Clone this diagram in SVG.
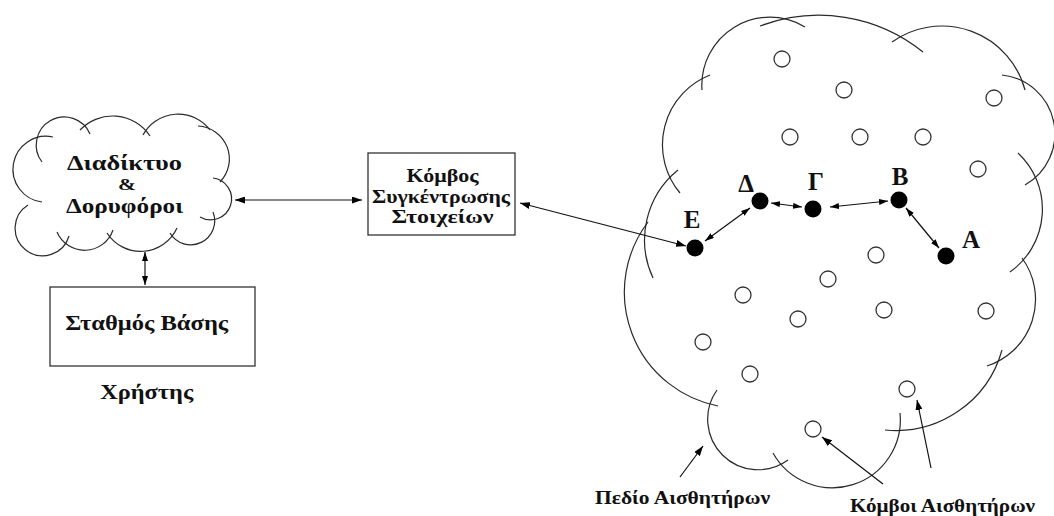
<svg xmlns="http://www.w3.org/2000/svg" width="1054" height="516" viewBox="0 0 1054 516">
  <style>
    .cloud { fill: none; stroke: #2a2a2a; stroke-width: 1.2; }
    .box { fill: #fff; stroke: #333; stroke-width: 1.3; }
    .lbl { font-family: "Liberation Serif", "Times New Roman", serif; font-weight: bold; fill: #111; text-anchor: middle; }
    .conn { fill: none; stroke: #111; stroke-width: 1.2; }
    .sensor { fill: #fff; stroke: #333; stroke-width: 1.3; }
    .hub { fill: #000; }
  </style>
  <defs>
    <marker id="arr" viewBox="0 0 10 7" refX="10" refY="3.5" markerWidth="10" markerHeight="7" markerUnits="userSpaceOnUse" orient="auto-start-reverse">
      <path d="M0,0 L10,3.5 L0,7 z" fill="#000"/>
    </marker>
    <marker id="arrS" viewBox="0 0 9 6" refX="9" refY="3" markerWidth="9" markerHeight="6" markerUnits="userSpaceOnUse" orient="auto-start-reverse">
      <path d="M0,0 L9,3 L0,6 z" fill="#000"/>
    </marker>
  </defs>
  <rect width="1054" height="516" fill="#fff"/>

  <!-- Internet & satellites cloud -->
  <g id="internet">
    <path class="cloud" d="M42,202 A33,33 0 1 1 53,137"/>
    <path class="cloud" d="M42,162 A28,28 0 1 1 90,134"/>
    <path class="cloud" d="M80,130 A45,45 0 0 1 150,136"/>
    <path class="cloud" d="M143,135 A40,40 0 0 1 210,130"/>
    <path class="cloud" d="M198,126 A33,33 0 0 1 220,182"/>
    <path class="cloud" d="M213,178 A21,21 0 1 1 200,217"/>
    <path class="cloud" d="M213,212 A24,24 0 0 1 170,233"/>
    <path class="cloud" d="M177,228 A40,40 0 0 1 107,233"/>
    <path class="cloud" d="M113,230 A30,30 0 0 1 57,232"/>
    <path class="cloud" d="M69,236 A27.5,27.5 0 1 1 28,205"/>
    <text class="lbl" x="124.5" y="170" font-size="22" textLength="115" lengthAdjust="spacingAndGlyphs">Διαδίκτυο</text>
    <text class="lbl" x="127" y="190" font-size="16" textLength="18" lengthAdjust="spacingAndGlyphs">&amp;</text>
    <text class="lbl" x="124.5" y="213" font-size="22" textLength="117" lengthAdjust="spacingAndGlyphs">Δορυφόροι</text>
  </g>

  <!-- Sink node box -->
  <g id="sink">
    <rect class="box" x="368" y="153" width="147" height="82"/>
    <text class="lbl" x="442.5" y="182" font-size="19" textLength="72" lengthAdjust="spacingAndGlyphs">Κόμβος</text>
    <text class="lbl" x="441" y="203" font-size="19" textLength="138" lengthAdjust="spacingAndGlyphs">Συγκέντρωσης</text>
    <text class="lbl" x="442.5" y="223" font-size="19" textLength="102" lengthAdjust="spacingAndGlyphs">Στοιχείων</text>
  </g>

  <!-- Base station / user -->
  <g id="base-station">
    <rect class="box" x="50" y="287" width="205" height="79"/>
    <text class="lbl" x="146.7" y="330" font-size="21" textLength="163" lengthAdjust="spacingAndGlyphs">Σταθμός Βάσης</text>
  </g>
  <g id="user">
    <text class="lbl" x="146.7" y="399" font-size="20" textLength="93" lengthAdjust="spacingAndGlyphs">Χρήστης</text>
  </g>

  <!-- Sensor field cloud -->
  <g id="sensor-field">
    <path class="cloud" d="M653,278 A90,90 0 0 1 678,170"/>
    <path class="cloud" d="M680,193 A75,75 0 0 1 710,75"/>
    <path class="cloud" d="M702,90 A68,68 0 0 1 805,27"/>
    <path class="cloud" d="M760,26 A166,166 0 0 1 923,52"/>
    <path class="cloud" d="M892,42 A86,86 0 0 1 1025,90"/>
    <path class="cloud" d="M1002,75 A59,59 0 0 1 1025,185"/>
    <path class="cloud" d="M1018,153 A77,77 0 0 1 1010,272"/>
    <path class="cloud" d="M1022,258 A70,70 0 0 1 987,366"/>
    <path class="cloud" d="M1002,350 A110,110 0 0 1 885,430"/>
    <path class="cloud" d="M900,413 A68,68 0 0 1 773,453"/>
    <path class="cloud" d="M788,460 A50.5,50.5 0 0 1 717,390"/>
    <path class="cloud" d="M718,406 A116,116 0 0 1 648,222"/>
  </g>

  <!-- Sensor nodes -->
  <g id="sensors">
    <circle class="sensor" cx="782" cy="59" r="8"/>
    <circle class="sensor" cx="844" cy="90" r="8"/>
    <circle class="sensor" cx="994" cy="98" r="8"/>
    <circle class="sensor" cx="790" cy="137" r="8"/>
    <circle class="sensor" cx="860" cy="137" r="8"/>
    <circle class="sensor" cx="923" cy="137" r="8"/>
    <circle class="sensor" cx="978" cy="169" r="8"/>
    <circle class="sensor" cx="876" cy="255" r="8"/>
    <circle class="sensor" cx="828" cy="279" r="8"/>
    <circle class="sensor" cx="743" cy="295" r="8"/>
    <circle class="sensor" cx="798" cy="319" r="8"/>
    <circle class="sensor" cx="884" cy="310" r="8"/>
    <circle class="sensor" cx="986" cy="311" r="8"/>
    <circle class="sensor" cx="703" cy="342" r="8"/>
    <circle class="sensor" cx="750" cy="374" r="8"/>
    <circle class="sensor" cx="907" cy="389" r="8"/>
    <circle class="sensor" cx="813" cy="429" r="8"/>
  </g>

  <!-- Relay path nodes -->
  <g id="node-E">
    <circle class="hub" cx="695" cy="248" r="8.5"/>
    <text class="lbl" x="692" y="228" font-size="25">Ε</text>
  </g>
  <g id="node-D">
    <circle class="hub" cx="760" cy="201" r="8.5"/>
    <text class="lbl" x="746" y="192" font-size="25">Δ</text>
  </g>
  <g id="node-G">
    <circle class="hub" cx="813" cy="209" r="8.5"/>
    <text class="lbl" x="816" y="190" font-size="25">Γ</text>
  </g>
  <g id="node-B">
    <circle class="hub" cx="899" cy="200" r="8.5"/>
    <text class="lbl" x="900" y="185" font-size="25">Β</text>
  </g>
  <g id="node-A">
    <circle class="hub" cx="946" cy="256" r="8.5"/>
    <text class="lbl" x="971" y="248" font-size="25">Α</text>
  </g>

  <!-- Captions -->
  <g id="captions">
    <text class="lbl" x="682.5" y="504" font-size="18" textLength="175" lengthAdjust="spacingAndGlyphs">Πεδίο Αισθητήρων</text>
    <text class="lbl" x="942.5" y="512" font-size="18" textLength="185" lengthAdjust="spacingAndGlyphs">Κόμβοι Αισθητήρων</text>
  </g>

  <!-- Connectors -->
  <g id="connectors">
    <path class="conn" d="M235,200 L362,200" marker-start="url(#arr)" marker-end="url(#arr)"/>
    <path class="conn" d="M145,252 L145,285" marker-start="url(#arrS)" marker-end="url(#arrS)"/>
    <path class="conn" d="M520,203 L686,246" marker-start="url(#arr)" marker-end="url(#arr)"/>
    <path class="conn" d="M705,241 L750,208" marker-start="url(#arrS)" marker-end="url(#arrS)"/>
    <path class="conn" d="M771,203 L802,207" marker-start="url(#arrS)" marker-end="url(#arrS)"/>
    <path class="conn" d="M830,207 L888,201" marker-start="url(#arrS)" marker-end="url(#arrS)"/>
    <path class="conn" d="M906,208 L939,248" marker-start="url(#arrS)" marker-end="url(#arrS)"/>
    <path class="conn" d="M680,477 L703,446" marker-end="url(#arr)"/>
    <path class="conn" d="M883,484 L822,437" marker-end="url(#arr)"/>
    <path class="conn" d="M931,468 L917,400" marker-end="url(#arr)"/>
  </g>
</svg>
